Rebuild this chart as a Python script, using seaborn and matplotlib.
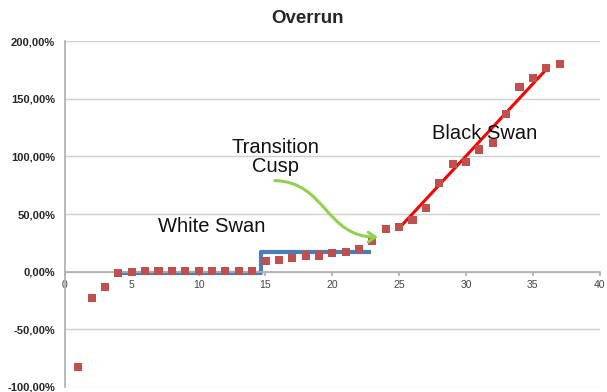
import numpy as np
import pandas as pd
import matplotlib
matplotlib.use("Agg")
import matplotlib.pyplot as plt
import seaborn as sns
from matplotlib.path import Path
from matplotlib.patches import FancyArrowPatch
from matplotlib.ticker import FuncFormatter

# Overrun values (percent) for observations 1..37
obs = list(range(1, 38))
overrun = [-83, -22.5, -13, -1, 0, 0.5, 0.5, 0.5, 0.5, 0.5, 0.5, 0.5, 0.5, 0.5,
           9, 10.5, 12, 14, 14, 16.5, 17, 20, 27, 37, 39, 45, 55, 77, 93.5, 95,
           106, 112, 137, 160, 168, 177, 180]

# White swan regime (step) and black swan trend line
white_x = [3.8, 14.7, 14.7, 22.9]
white_y = [-1, -1, 17, 17]
black_x = [25.1, 36.2]
black_y = [39, 178]

y_ticks = [-100, -50, 0, 50, 100, 150, 200]
x_ticks = [0, 5, 10, 15, 20, 25, 30, 35, 40]

df = pd.DataFrame({"obs": obs, "overrun": overrun})

sns.set_theme(style="white")
plt.rcParams["font.family"] = ["Liberation Sans", "DejaVu Sans"]

fig = plt.figure(figsize=(6.07, 3.92), dpi=100)
ax = fig.add_axes([0.107, 0.013, 0.881, 0.882])

for yt in y_ticks:
    ax.axhline(yt, color="#d0d0d0", lw=1, zorder=0)

ax.plot(white_x, white_y, color="#4a7ebb", lw=3, zorder=2,
        solid_capstyle="butt")
ax.plot(black_x, black_y, color="#ff0000", lw=2.2, zorder=3)
sns.scatterplot(data=df, x="obs", y="overrun", marker="s", s=34,
                color="#c0504d", edgecolor="none", ax=ax, zorder=4)

# curved green arrow for the transition cusp
verts = [(15.7, 79), (19.5, 78), (19.5, 30), (23.4, 30)]
codes = [Path.MOVETO, Path.CURVE4, Path.CURVE4, Path.CURVE4]
arrow = FancyArrowPatch(path=Path(verts, codes),
                        arrowstyle="->,head_length=5,head_width=3.5",
                        color="#92d050", lw=2.2, zorder=5)
ax.add_patch(arrow)

ax.text(15.75, 99.5, "Transition\nCusp", ha="center", va="center",
        fontsize=14.5, linespacing=1.05, color="#111111")
ax.text(11, 39, "White Swan", ha="center", va="center", fontsize=14.5,
        color="#111111")
ax.text(31.4, 120, "Black Swan", ha="center", va="center", fontsize=14.5,
        color="#111111")

fig.suptitle("Overrun", x=0.507, y=0.975, fontsize=13.5, fontweight="bold")

ax.set_xlim(0, 40)
ax.set_ylim(-100, 200)
ax.set_xticks(x_ticks)
ax.set_yticks(y_ticks)
ax.yaxis.set_major_formatter(FuncFormatter(lambda v, p: f"{v:.2f}%".replace(".", ",")))
ax.set_xlabel("")
ax.set_ylabel("")

for s in ["top", "right"]:
    ax.spines[s].set_visible(False)
ax.spines["bottom"].set_position(("data", 0))
ax.spines["bottom"].set_color("#b0b0b0")
ax.spines["left"].set_color("#b0b0b0")
ax.tick_params(axis="x", direction="out", length=3, color="#b0b0b0",
               labelsize=7.5, labelcolor="#444444", pad=3, bottom=True)
ax.tick_params(axis="y", length=0, labelsize=8, pad=7)
for lab in ax.get_yticklabels():
    lab.set_fontweight("bold")

fig.savefig("out.png", dpi=100)
